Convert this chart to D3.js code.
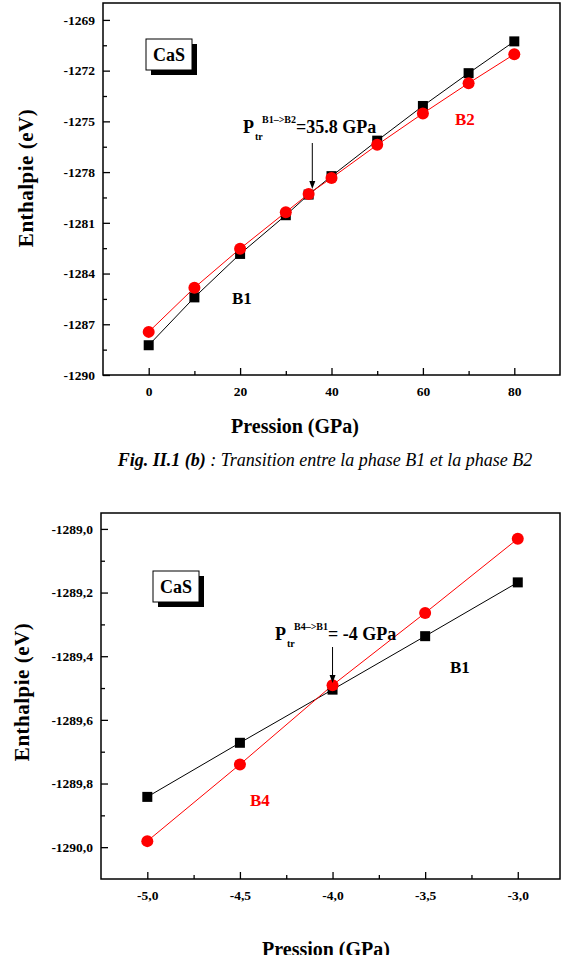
<!DOCTYPE html>
<html lang="fr">
<head>
<meta charset="UTF-8" />
<title>CaS - enthalpie en fonction de la pression</title>
<script src="https://d3js.org/d3.v7.min.js"></script>
<style>
    body { margin: 0; background: #fff; }
    svg text { font-family: "Liberation Serif", "Times New Roman", serif; font-weight: bold; }
    .tick text { font-size: 13.5px; fill: #000; }
    .tick line { stroke: #000; stroke-width: 1.3px; }
</style>
</head>
<body>
<svg width="568" height="955"></svg>
<script>
// --- figure (b) : B1 -> B2 ---
const press1 = [0, 10, 20, 30, 35, 40, 50, 60, 70, 80];
const enthB1 = [-1288.24, -1285.41, -1282.84, -1280.55, -1279.33, -1278.24, -1276.14, -1274.09, -1272.15, -1270.27];
const enthB2 = [-1287.45, -1284.84, -1282.53, -1280.37, -1279.29, -1278.35, -1276.39, -1274.53, -1272.74, -1271.03];
const xTicks1 = [0, 20, 40, 60, 80];
const xMinor1 = [10, 30, 50, 70];
const yTicks1 = [-1290, -1287, -1284, -1281, -1278, -1275, -1272, -1269];
const yMinor1 = [-1288.5, -1285.5, -1282.5, -1279.5, -1276.5, -1273.5, -1270.5];

// --- second figure : B4 -> B1 ---
const press2 = [-5.0, -4.5, -4.0, -3.5, -3.0];
const enthB1b = [-1289.842, -1289.672, -1289.505, -1289.337, -1289.168];
const enthB4 = [-1289.981, -1289.740, -1289.491, -1289.264, -1289.031];
const xTicks2 = [-5.0, -4.5, -4.0, -3.5, -3.0];
const xMinor2 = [-4.75, -4.25, -3.75, -3.25];
const yTicks2 = [-1290.0, -1289.8, -1289.6, -1289.4, -1289.2, -1289.0];
const yMinor2 = [-1289.9, -1289.7, -1289.5, -1289.3, -1289.1];

const svg = d3.select("svg");
svg.append("rect").attr("width", 568).attr("height", 955).attr("fill", "#fff");

const frLocale = d3.formatLocale({ decimal: ",", thousands: "", grouping: [3], currency: ["", ""], minus: "-" });
const serif = "'Liberation Serif', 'Times New Roman', serif";

function drawPanel(cfg) {
    const x = d3.scaleLinear().domain(cfg.xDomain).range([cfg.left, cfg.right]);
    const y = d3.scaleLinear().domain(cfg.yDomain).range([cfg.bottom, cfg.top]);
    const g = svg.append("g");

    // axes, ticks pointing inward
    g.append("g").attr("transform", `translate(0,${cfg.bottom})`)
        .call(d3.axisBottom(x).tickValues(cfg.xTicks).tickSize(-7).tickPadding(11).tickFormat(cfg.xFmt));
    g.append("g").attr("transform", `translate(0,${cfg.bottom})`)
        .call(d3.axisBottom(x).tickValues(cfg.xMinor).tickSize(-4).tickFormat(""));
    g.append("g").attr("transform", `translate(${cfg.left},0)`)
        .call(d3.axisLeft(y).tickValues(cfg.yTicks).tickSize(-7).tickPadding(8).tickFormat(cfg.yFmt));
    g.append("g").attr("transform", `translate(${cfg.left},0)`)
        .call(d3.axisLeft(y).tickValues(cfg.yMinor).tickSize(-4).tickFormat(""));
    g.selectAll(".domain").remove();
    g.selectAll(".tick text").attr("font-family", serif);

    g.append("rect")
        .attr("x", cfg.left).attr("y", cfg.top)
        .attr("width", cfg.right - cfg.left).attr("height", cfg.bottom - cfg.top)
        .attr("fill", "none").attr("stroke", "#000").attr("stroke-width", 1.5);

    const series = [
        { xs: cfg.xs, ys: cfg.black, color: "#000", shape: "square" },
        { xs: cfg.xs, ys: cfg.red, color: "#ff0000", shape: "circle" }
    ];
    series.forEach((s) => {
        const line = d3.line().x((d, i) => x(s.xs[i])).y((d) => y(d));
        g.append("path").datum(s.ys)
            .attr("d", line).attr("fill", "none")
            .attr("stroke", s.color).attr("stroke-width", 1);
    });
    series.forEach((s) => {
        if (s.shape === "square") {
            g.selectAll(null).data(s.ys).enter().append("rect")
                .attr("x", (d, i) => x(s.xs[i]) - 5).attr("y", (d) => y(d) - 5)
                .attr("width", 10).attr("height", 10).attr("fill", s.color);
        } else {
            g.selectAll(null).data(s.ys).enter().append("circle")
                .attr("cx", (d, i) => x(s.xs[i])).attr("cy", (d) => y(d))
                .attr("r", 6).attr("fill", s.color);
        }
    });

    // CaS box with shadow
    const b = cfg.box;
    g.append("rect").attr("x", b.x + 5).attr("y", b.y + 5).attr("width", 46).attr("height", 31).attr("fill", "#000");
    g.append("rect").attr("x", b.x).attr("y", b.y).attr("width", 46).attr("height", 31)
        .attr("fill", "#fff").attr("stroke", "#000").attr("stroke-width", 1);
    g.append("text").attr("x", b.x + 23).attr("y", b.y + 22).attr("text-anchor", "middle")
        .attr("font-size", 18).text("CaS");

    // axis titles
    g.append("text")
        .attr("transform", `translate(${cfg.yTitleX},${cfg.yTitleY}) rotate(-90)`)
        .attr("text-anchor", "middle").attr("font-size", 21).attr("letter-spacing", 0.5)
        .text("Enthalpie (eV)");
    g.append("text").attr("x", cfg.xTitleX).attr("y", cfg.xTitleY)
        .attr("text-anchor", "middle").attr("font-size", 20)
        .text("Pression (GPa)");

    // phase labels
    cfg.labels.forEach((l) => {
        g.append("text").attr("x", l.x).attr("y", l.y).attr("font-size", 17)
            .attr("fill", l.color).text(l.text);
    });

    // transition annotation: P_tr^{...}
    const a = cfg.annot;
    g.append("text").attr("x", a.x).attr("y", a.y).attr("font-size", 18).text("P");
    g.append("text").attr("x", a.x + 12).attr("y", a.y + 7).attr("font-size", 10).text("tr");
    g.append("text").attr("x", a.supX).attr("y", a.y - 10).attr("font-size", 10).text(a.sup);
    g.append("text").attr("x", a.restX).attr("y", a.y).attr("font-size", 18).text(a.rest);

    const ax0 = x(a.at);
    g.append("line").attr("x1", ax0).attr("x2", ax0).attr("y1", a.y1).attr("y2", a.y2 - 6)
        .attr("stroke", "#000").attr("stroke-width", 1);
    g.append("path")
        .attr("d", `M${ax0 - 3},${a.y2 - 8} L${ax0 + 3},${a.y2 - 8} L${ax0},${a.y2} Z`)
        .attr("fill", "#000");
}

drawPanel({
    left: 103, right: 560, top: 3, bottom: 375,
    xDomain: [-10, 90], yDomain: [-1290, -1268],
    xTicks: xTicks1, xMinor: xMinor1, yTicks: yTicks1, yMinor: yMinor1,
    xFmt: (d) => String(d), yFmt: (d) => String(d),
    xs: press1, black: enthB1, red: enthB2,
    box: { x: 146, y: 39 },
    yTitleX: 33, yTitleY: 178, xTitleX: 295, xTitleY: 433,
    labels: [
        { text: "B2", x: 455, y: 125, color: "#ff0000" },
        { text: "B1", x: 232, y: 304, color: "#000" }
    ],
    annot: { x: 243, y: 133, supX: 262, sup: "B1\u2013>B2", restX: 296, rest: "=35.8 GPa", at: 35.8, y1: 143, y2: 189 }
});

// caption
svg.append("text").attr("x", 325).attr("y", 466).attr("text-anchor", "middle")
    .attr("font-size", 18).attr("font-style", "italic")
    .call((t) => {
        t.append("tspan").attr("font-weight", "bold").text("Fig. II.1 (b)");
        t.append("tspan").attr("font-weight", "normal").text(" : Transition entre la phase B1 et la phase B2");
    });

drawPanel({
    left: 101, right: 560, top: 513, bottom: 879,
    xDomain: [-5.25, -2.772], yDomain: [-1290.1, -1288.95],
    xTicks: xTicks2, xMinor: xMinor2, yTicks: yTicks2, yMinor: yMinor2,
    xFmt: frLocale.format(".1f"), yFmt: frLocale.format(".1f"),
    xs: press2, black: enthB1b, red: enthB4,
    box: { x: 153, y: 571 },
    yTitleX: 29, yTitleY: 692, xTitleX: 326, xTitleY: 956,
    labels: [
        { text: "B1", x: 450, y: 673, color: "#000" },
        { text: "B4", x: 250, y: 806, color: "#ff0000" }
    ],
    annot: { x: 275, y: 640, supX: 294, sup: "B4\u2013>B1", restX: 328, rest: "= -4 GPa", at: -4.0, y1: 647, y2: 683 }
});
</script>
</body>
</html>
